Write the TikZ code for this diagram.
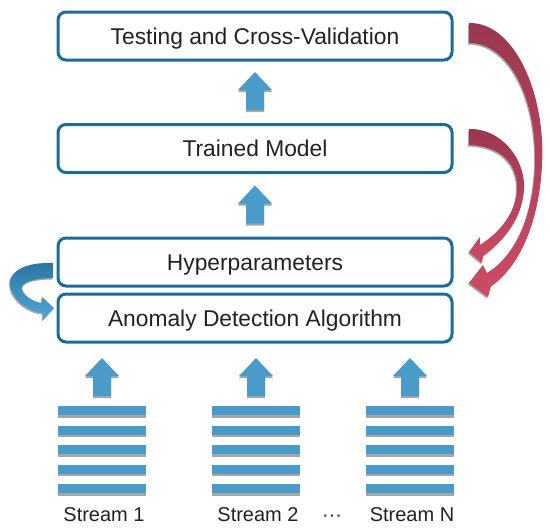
\documentclass[tikz,border=0pt]{standalone}
\usepackage{fontspec}
\setmainfont{Liberation Sans}
\usepackage{xcolor}
\usepackage{tikz}
\usetikzlibrary{arrows.meta,positioning,calc,shadows}

\definecolor{boxline}{HTML}{1D6C95}
\definecolor{arrblue}{HTML}{4A9BC9}
\definecolor{shadegray}{HTML}{A6A6A6}
\definecolor{reddark}{HTML}{9A3850}
\definecolor{redlight}{HTML}{CD4B64}
\definecolor{bluedark}{HTML}{2D76A0}
\definecolor{bluelight}{HTML}{4DA6D8}
\definecolor{txt}{HTML}{222222}

\begin{document}
\begin{tikzpicture}[
      x=1pt, y=-1pt,
      font=\fontsize{22.8}{27}\selectfont,
      % Reusable styles
      box/.style={
        draw=boxline,
        line width=3pt,
        fill=white,
        rounded corners=8pt,
        minimum width=394pt,
        minimum height=48pt,
        inner sep=0pt,
        text height=16pt,
        text depth=0pt,
        text=txt
      },
      lbl/.style={
        font=\fontsize{20}{24}\selectfont,
        text=txt,
        anchor=base,
        inner sep=0pt
      },
      stripe/.style={
        fill=arrblue,
        drop shadow={shadow xshift=0pt, shadow yshift=-2.5pt, fill=shadegray, opacity=1}
      },
      blockarrow/.style={
        fill=arrblue,
        drop shadow={shadow xshift=0pt, shadow yshift=-2pt, fill=shadegray, opacity=1}
      },
      loopback/.style={
        top color=reddark,
        bottom color=redlight,
        drop shadow={shadow xshift=-1pt, shadow yshift=-1.5pt, fill=shadegray, opacity=1}
      },
      selfloop/.style={
        top color=bluedark,
        bottom color=bluelight,
        drop shadow={shadow xshift=-1pt, shadow yshift=-1.5pt, fill=shadegray, opacity=1}
      },
      uparrow/.pic={
        \path[blockarrow] (-9,0) -- (-9,-20) -- (-17,-20) -- (0,-38)
          -- (17,-20) -- (9,-20) -- (9,0) -- cycle;
      }
    ]
    \useasboundingbox (0,0) rectangle (550,531);

    % Nodes
    \node[box] (testing) at (255,36) {Testing and Cross-Validation};
    \node[box] (trained) at (255,148.5) {Trained Model};
    \node[box] (hyper) at (255,262) {Hyperparameters};
    \node[box] (anomaly) at (255,318) {Anomaly Detection Algorithm};

    % Streams
    \foreach \i/\x/\t in {1/102/Stream 1, 2/256/Stream 2, 3/410/Stream N} {
      \coordinate (s\i) at (\x,406);
      \foreach \k in {0,...,4}
        \path[stripe] ($(s\i)+(-44,19.5*\k)$) rectangle ++(88,9);
      \pic at ($(s\i)+(0,-10)$) {uparrow};
      \node[lbl] (lab\i) at ($(s\i)+(2,115)$) {\t};
    }
    \node[lbl] (dots) at (332,521) {···};

    % Edges
    \pic at ($(trained.north)+(0,-13)$) {uparrow};
    \pic at ($(hyper.north)+(0,-13)$) {uparrow};

    % feedback arrows
    \path[loopback] (469,23) .. controls (515,22) and (546,95) .. (542,165)
      .. controls (539,225) and (518,268) .. (491,286)
      -- (488,297) -- (469,283) -- (483,265) -- (487,273)
      .. controls (512,258) and (533,222) .. (535,165)
      .. controls (537,100) and (510,43) .. (469,43) -- cycle;
    \path[loopback] (469,129) .. controls (500,128) and (526,158) .. (524,190)
      .. controls (522,218) and (505,240) .. (483,256)
      -- (482,263) -- (469,252) -- (480,237) -- (480,245)
      .. controls (500,232) and (516,213) .. (517,190)
      .. controls (518,163) and (500,146) .. (469,145) -- cycle;
    \path[selfloop] (53,263) .. controls (28,262) and (10,270) .. (10,283)
      .. controls (10,298) and (28,312) .. (43,313)
      -- (43,320) -- (54,308) -- (42,297) -- (42,303)
      .. controls (32,302) and (22,294) .. (22,288)
      .. controls (22,282) and (35,278) .. (53,278) -- cycle;
  \end{tikzpicture}
\end{document}
